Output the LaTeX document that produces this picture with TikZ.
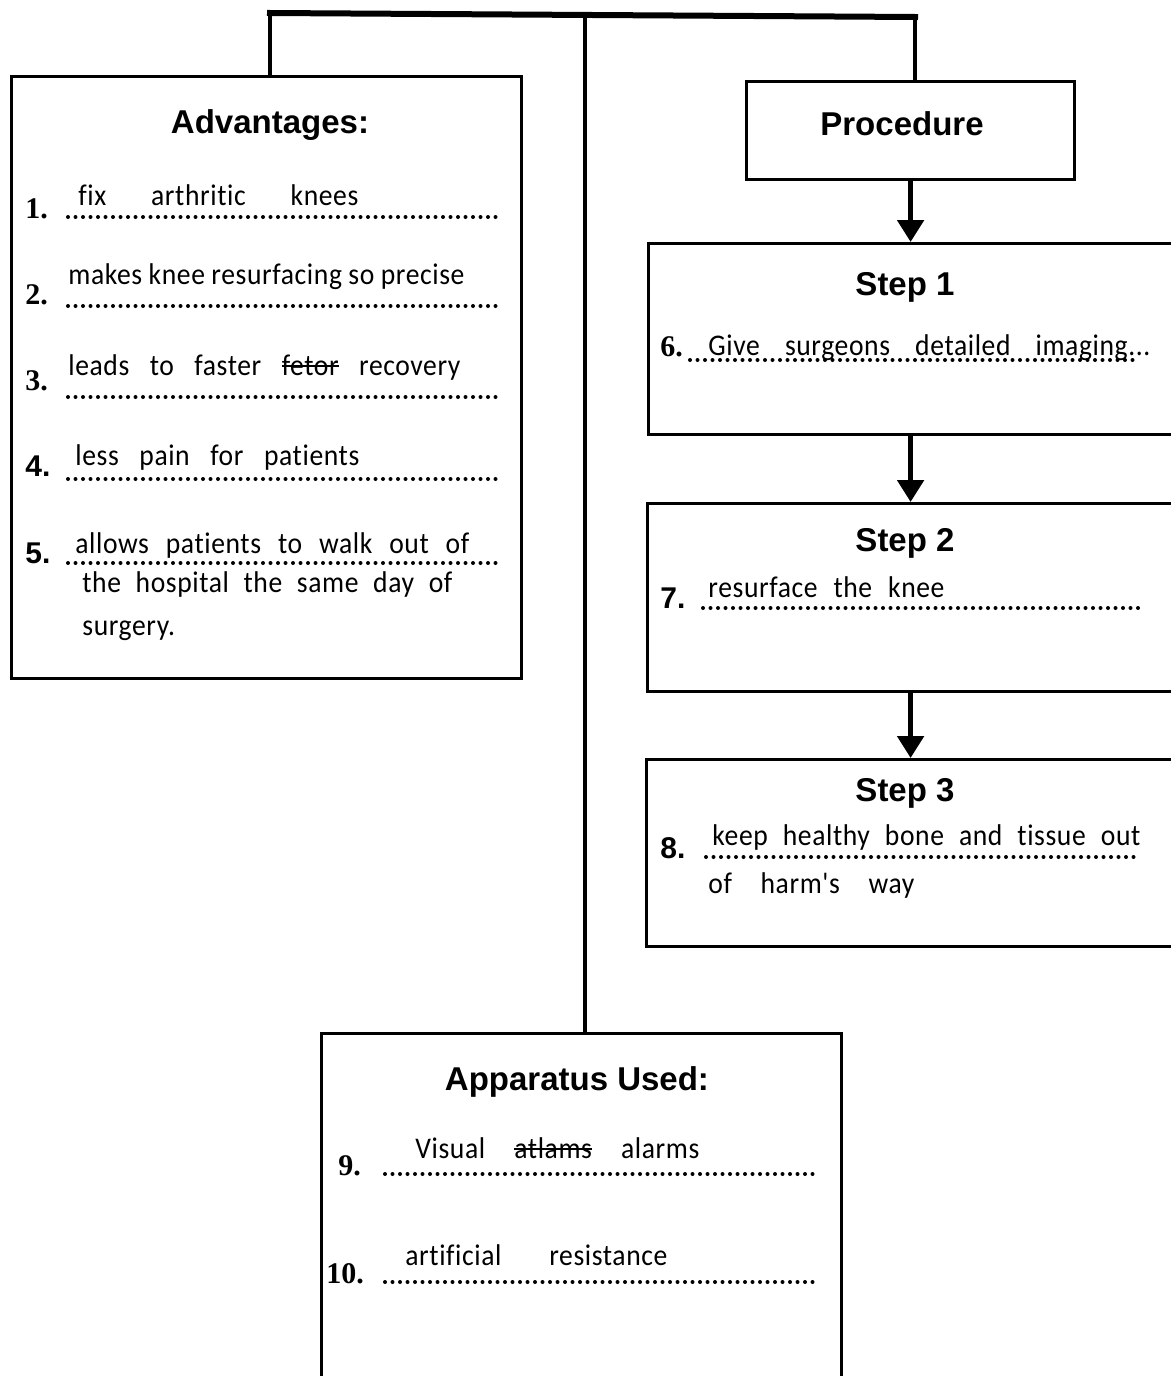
\documentclass[tikz,border=0pt]{standalone}
\usepackage{fontspec}
\usetikzlibrary{arrows.meta}
\newfontfamily\headfont{Liberation Sans}
\newfontfamily\numserif{Liberation Serif}
\newfontfamily\numsans{Liberation Sans}
\newfontfamily\hand{Carlito}[LetterSpace=2,Ligatures=NoCommon,FakeStretch=0.92]
% a word with a line drawn through it
\newsavebox\strikebox
\newcommand\strikeword[1]{\sbox\strikebox{#1}\rlap{\rule[0.27em]{\wd\strikebox}{0.8pt}}\usebox\strikebox}
% a written line spread over a given width
\newcommand\spread[2]{\makebox[#1][s]{#2}}
\begin{document}
\begin{tikzpicture}[x=0.5pt,y=-0.5pt,
  box/.style={draw=black,line width=1.6pt,fill=white,inner sep=0pt,anchor=north west},
  heading/.style={font=\headfont\bfseries\fontsize{16.5}{18}\selectfont,inner sep=0pt},
  numlabel/.style={font=\numserif\bfseries\fontsize{15}{17}\selectfont,anchor=base west,inner sep=0pt},
  numlabelsf/.style={font=\numsans\bfseries\fontsize{15}{17}\selectfont,anchor=base west,inner sep=0pt},
  written/.style={font=\hand\fontsize{15}{17}\selectfont,anchor=base west,inner sep=0pt},
  dotline/.style={line width=2pt,line cap=round,dash pattern=on 0pt off 3.75pt},
  trunk/.style={line width=2pt},
  flow/.style={line width=2.6pt,-{Triangle[width=13pt,length=11pt]}}]
\clip (0,0) rectangle (1171,1376);
\fill[white] (0,0) rectangle (1171,1376);

% boxes
\node[box,minimum width=255pt,minimum height=301pt] (adv) at (10,75) {};
\node[box,minimum width=164pt,minimum height=49pt] (proc) at (745,80) {};
\node[box,minimum width=272pt,minimum height=95.5pt] (s1) at (647,242) {};
\node[box,minimum width=272pt,minimum height=94pt] (s2) at (646,502) {};
\node[box,minimum width=272pt,minimum height=93.5pt] (s3) at (645,758) {};
\node[box,minimum width=260pt,minimum height=184pt] (app) at (320,1032) {};

% branching trunk at the top
\coordinate (jL) at (270,13);
\coordinate (jC) at (585,15);
\coordinate (jR) at (915,17);
\draw[line width=3pt,line cap=rect] (jL) -- (jR);
\draw[trunk] (jL) -- (adv.north -| jL);
\draw[trunk] (jR) -- (proc.north -| jR);
\draw[trunk] (jC) -- (app.north -| jC);

% procedure flow
\draw[flow] (proc.south) -- (proc.south |- s1.north);
\draw[flow] (s1.south -| proc.south) -- (s2.north -| proc.south);
\draw[flow] (s2.south -| proc.south) -- (s3.north -| proc.south);

% headings
\node[heading] (hadv) at (270,125) {Advantages:};
\node[heading] (hproc) at (902,124) {Procedure};
\node[heading] (hs1) at (905,287) {Step 1};
\node[heading] (hs2) at (905,543) {Step 2};
\node[heading] (hs3) at (905,793) {Step 3};
\node[heading] (happ) at (577,1082) {Apparatus Used:};

% advantages list
\node[numlabel] (n1) at (25,218) {1.};
\node[numlabel] (n2) at (25,304) {2.};
\node[numlabel] (n3) at (25,390) {3.};
\node[numlabelsf] (n4) at (25,476) {4.};
\node[numlabelsf] (n5) at (25,563) {5.};
\foreach \yy in {217,306,397,479,563}
  \draw[dotline] (68,\yy) -- (498,\yy);
\node[written] (t1) at (78,205) {\spread{140pt}{fix arthritic knees}};
\node[written] (t2) at (68,284) {\spread{198pt}{makes knee resurfacing so precise}};
\node[written] (t3) at (68,375) {\spread{196pt}{leads to faster \strikeword{fetor} recovery}};
\node[written] (t4) at (75,465) {\spread{142pt}{less pain for patients}};
\node[written] (t5a) at (75,553) {\spread{197pt}{allows patients to walk out of}};
\node[written] (t5b) at (82,592) {\spread{185pt}{the hospital the same day of}};
\node[written] (t5c) at (82,635) {surgery.};

% steps
\node[numlabel] (n6) at (660,356) {6.};
\draw[dotline] (690,360) -- (1140,360);
\node[written] (t6) at (708,355) {\spread{221pt}{Give surgeons detailed imaging...}};
\node[numlabelsf] (n7) at (660,608) {7.};
\draw[dotline] (703,608) -- (1140,608);
\node[written] (t7) at (708,597) {\spread{118pt}{resurface the knee}};
\node[numlabelsf] (n8) at (660,858) {8.};
\draw[dotline] (706,857) -- (1140,857);
\node[written] (t8a) at (712,845) {\spread{214pt}{keep healthy bone and tissue out}};
\node[written] (t8b) at (708,893) {\spread{103pt}{of harm's way}};

% apparatus
\node[numlabel] (n9) at (338,1175) {9.};
\draw[dotline] (385,1174) -- (815,1174);
\node[written] (t9) at (415,1158) {\spread{142pt}{Visual \strikeword{atlams} alarms}};
\node[numlabel] (n10) at (326,1283) {10.};
\draw[dotline] (385,1282) -- (815,1282);
\node[written] (t10) at (405,1265) {\spread{131pt}{artificial resistance}};
\end{tikzpicture}
\end{document}
